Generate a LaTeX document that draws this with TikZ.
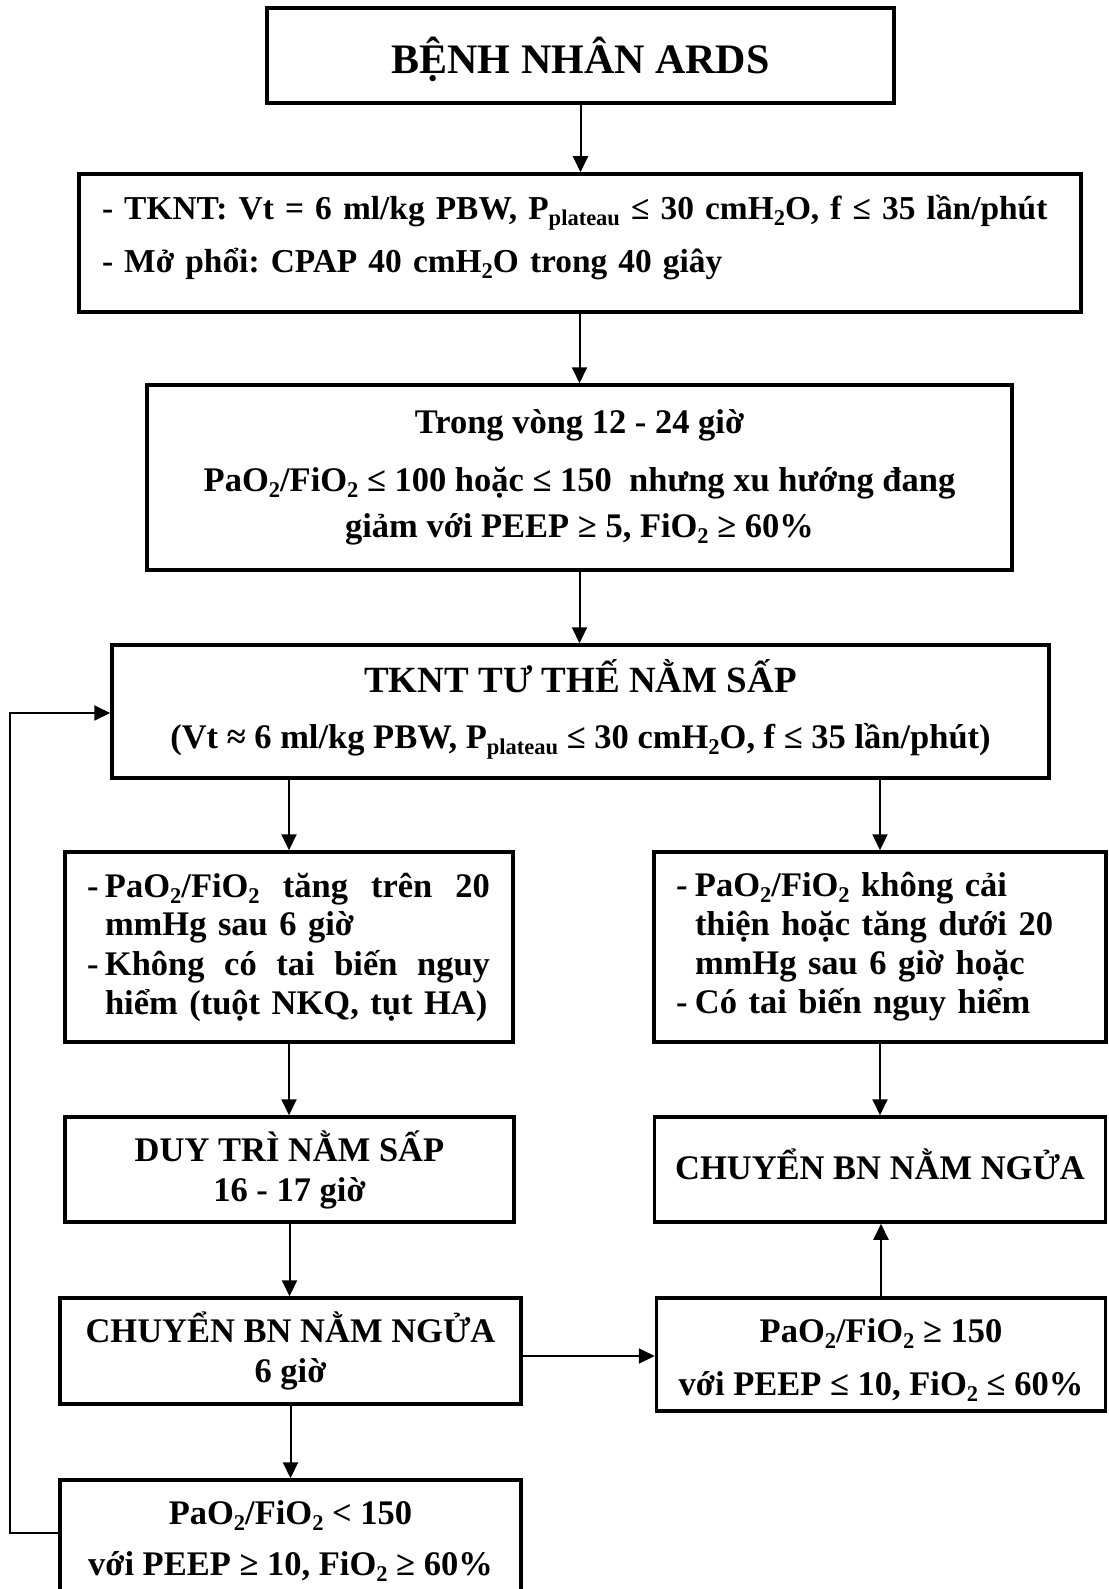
\documentclass[tikz,border=0pt]{standalone}
\usepackage{fontspec}
\setmainfont{Liberation Serif}
\usetikzlibrary{arrows.meta}
\frenchspacing
\newcommand\sbs[1]{\raisebox{-6pt}{\fontsize{22.5}{22.5}\selectfont #1}}
\newcommand\shiftln[2]{\raisebox{#1}[\height][\depth]{#2}}
\begin{document}
\begin{tikzpicture}[x=1pt,y=-1pt,
  box/.style={draw, line width=3.5pt, inner sep=0pt, align=center,
    font=\bfseries\fontsize{34.5}{40}\selectfont},
  conn/.style={line width=2pt, -{Triangle[length=16pt,width=15pt]}},
  plain/.style={line width=2pt}]
\clip (0,0) rectangle (1108,1589);
\fill[white] (0,0) rectangle (1108,1589);

\node[box, minimum width=627pt, minimum height=95pt,
  font=\bfseries\fontsize{42}{48}\selectfont] (b1) at (580.5,55.5)
  {\shiftln{-4pt}{BỆNH NHÂN ARDS}};

\node[box, minimum width=1002pt, minimum height=138pt, align=left,
  text width=956pt, font=\bfseries\fontsize{33.4}{53}\selectfont] (b2) at (580,243)
  {\shiftln{5pt}{- TKNT: Vt = 6 ml/kg PBW, P\sbs{plateau} ≤ 30 cmH\sbs{2}O, f ≤ 35 lần/phút}\\
   \shiftln{5pt}{- Mở phổi: CPAP 40 cmH\sbs{2}O trong 40 giây}};

\node[box, minimum width=865pt, minimum height=185pt,
  font=\bfseries\fontsize{34.5}{46}\selectfont] (b3) at (579.5,477.5)
  {Trong vòng 12 - 24 giờ\\[12pt]
   PaO\sbs{2}/FiO\sbs{2} ≤ 100 hoặc ≤ 150\ \ nhưng xu hướng đang\\
   giảm với PEEP ≥ 5, FiO\sbs{2} ≥ 60\%};

\node[box, minimum width=937pt, minimum height=133pt,
  font=\bfseries\fontsize{34.5}{60}\selectfont] (b4) at (580.5,711.5)
  {{\fontsize{37}{60}\selectfont TKNT TƯ THẾ NẰM SẤP}\\
   \shiftln{4pt}{(Vt ≈ 6 ml/kg PBW, P\sbs{plateau} ≤ 30 cmH\sbs{2}O, f ≤ 35 lần/phút)}};

\node[box, minimum width=448pt, minimum height=190pt, align=left, text width=404pt,
  font=\bfseries\fontsize{34.5}{39}\selectfont] (b5) at (289,947)
  {\makebox[18pt][l]{-}\makebox[385pt][l]{PaO\sbs{2}/FiO\sbs{2}\hfill tăng\hfill trên\hfill 20}\\
   \hspace*{18pt}mmHg sau 6 giờ\\
   \makebox[18pt][l]{-}\makebox[385pt][l]{Không\hfill có\hfill tai\hfill biến\hfill nguy}\\
   \hspace*{18pt}hiểm (tuột NKQ, tụt HA)};

\node[box, minimum width=452pt, minimum height=190pt, align=left, text width=408pt,
  font=\bfseries\fontsize{34.5}{39}\selectfont] (b6) at (880,947)
  {\makebox[19pt][l]{-}PaO\sbs{2}/FiO\sbs{2} không cải\\
   \hspace*{19pt}thiện hoặc tăng dưới 20\\
   \hspace*{19pt}mmHg sau 6 giờ hoặc\\
   \makebox[19pt][l]{-}Có tai biến nguy hiểm};

\node[box, minimum width=449pt, minimum height=105pt] (b7) at (289.5,1169.5)
  {DUY TRÌ NẰM SẤP\\16 - 17 giờ};

\node[box, minimum width=461pt, minimum height=106pt] (b8) at (290.5,1351)
  {CHUYỂN BN NẰM NGỬA\\6 giờ};

\node[box, minimum width=461pt, minimum height=122pt,
  font=\bfseries\fontsize{34.5}{51}\selectfont] (b9) at (290.5,1541)
  {PaO\sbs{2}/FiO\sbs{2} < 150\\với PEEP ≥ 10, FiO\sbs{2} ≥ 60\%};

\node[box, minimum width=451pt, minimum height=105pt] (b10) at (880,1169.5)
  {\shiftln{5pt}{CHUYỂN BN NẰM NGỬA}};

\node[box, minimum width=449pt, minimum height=113pt,
  font=\bfseries\fontsize{34.5}{53}\selectfont] (b11) at (881,1354.5)
  {\shiftln{-6pt}{PaO\sbs{2}/FiO\sbs{2} ≥ 150}\\
   \shiftln{-6pt}{với PEEP ≤ 10, FiO\sbs{2} ≤ 60\%}};

\coordinate (fbtop) at (10,713);

\draw[conn] (b1.south) -- (b1.south |- b2.north);
\draw[conn] (b2.south -| b3.north) -- (b3.north);
\draw[conn] (b3.south) -- (b3.south |- b4.north);
\draw[conn] (b4.south -| b5.north) -- (b5.north);
\draw[conn] (b4.south -| b6.north) -- (b6.north);
\draw[conn] (b5.south) -- (b5.south |- b7.north);
\draw[conn] (b7.south) -- (b7.south |- b8.north);
\draw[conn] (b8.south) -- (b8.south |- b9.north);
\draw[conn] (b6.south) -- (b6.south |- b10.north);
\draw[conn] (b11.north) -- (b11.north |- b10.south);
\draw[conn] ([yshift=-5pt]b8.east) -- ([yshift=-5pt]b8.east -| b11.west);
\draw[conn] ([yshift=8pt]b9.west) -| (fbtop) -- (fbtop -| b4.west);
\end{tikzpicture}
\end{document}
